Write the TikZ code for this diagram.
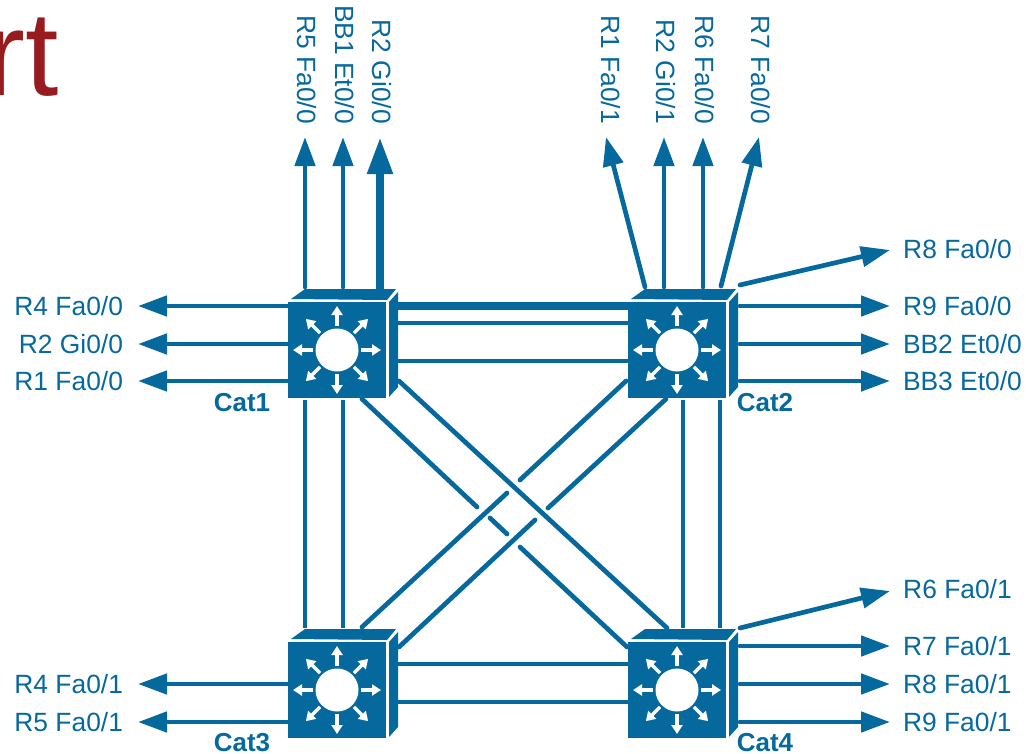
\documentclass[tikz,border=0pt]{standalone}
\usepackage{fontspec}
\setmainfont{Liberation Sans}
\usetikzlibrary{arrows.meta}
\definecolor{swblue}{HTML}{06699D}
\definecolor{titlered}{HTML}{981C1F}
\tikzset{
  link/.style={draw=swblue,line width=4.7pt,line cap=round},
  thicklink/.style={draw=swblue,line width=8pt},
  feed/.style={link,-{Triangle[length=29pt,width=20pt]}},
  thickfeed/.style={thicklink,-{Triangle[length=37pt,width=24pt]}},
  lbl/.style={text=swblue,font=\fontsize{26.4}{30}\selectfont,inner sep=0pt,text height=18.6pt,text depth=0pt},
  uplbl/.style={lbl,rotate=-90,anchor=east,outer sep=13pt,text depth=3pt},
  catlbl/.style={lbl,font=\fontsize{26}{30}\selectfont\bfseries},
  swfront/.style={fill=swblue,minimum width=98pt,minimum height=96pt,inner sep=0pt,outer sep=0pt},
  swarrow/.style={draw=white,line width=3.4pt,-{Triangle[length=9pt,width=11pt]}}
}
\newcommand{\catswitch}[2]{
  \node[swfront] (#1) at (#2) {};
  \begin{scope}[shift={(#2)}]
    \fill[swblue] (-46,-51) -- (-32,-61) -- (59,-61) -- (50,-50) -- cycle;
    \fill[swblue] (52,-48) -- (61,-58) -- (61,37) -- (52,47) -- cycle;
    \fill[white] (0,0) circle [radius=21.5];
    \foreach \a in {0,45,...,315}
      \draw[swarrow,rotate=\a] (24,0) -- (44,0);
  \end{scope}
}
\begin{document}
\begin{tikzpicture}[x=1pt,y=-1pt]
\useasboundingbox (0,0) rectangle (1026,753);
\node[text=titlered,font=\fontsize{120}{130}\selectfont,anchor=base east,inner sep=0pt] (title) at (59,95) {rt};
% switches
\catswitch{cat1}{337,350}
\catswitch{cat2}{677,350}
\catswitch{cat3}{337,690}
\catswitch{cat4}{677,690}
\node[catlbl] (cat1lbl) at (242,402) {Cat1};
\node[catlbl] (cat2lbl) at (765,402) {Cat2};
\node[catlbl] (cat3lbl) at (242,742) {Cat3};
\node[catlbl] (cat4lbl) at (765,742) {Cat4};
% links between the switches
\draw[thicklink] ([shift={(61,-44)}]cat1.center) -- ([shift={(-49,-44)}]cat2.center);
\draw[link,line cap=butt] ([shift={(61,-27)}]cat1.center) -- ([shift={(-49,-27)}]cat2.center);
\draw[link,line cap=butt] ([shift={(61,11)}]cat1.center) -- ([shift={(-49,11)}]cat2.center);
\draw[link,line cap=butt] ([shift={(61,-26)}]cat3.center) -- ([shift={(-49,-26)}]cat4.center);
\draw[link,line cap=butt] ([shift={(61,12)}]cat3.center) -- ([shift={(-49,12)}]cat4.center);
\draw[link,line cap=butt] ([shift={(-32,50)}]cat1.center) -- ([shift={(-32,-62)}]cat3.center);
\draw[link,line cap=butt] ([shift={(6,50)}]cat1.center) -- ([shift={(6,-62)}]cat3.center);
\draw[link,line cap=butt] ([shift={(6,50)}]cat2.center) -- ([shift={(6,-62)}]cat4.center);
\draw[link,line cap=butt] ([shift={(43,50)}]cat2.center) -- ([shift={(43,-62)}]cat4.center);
% the crossing links, broken where they pass under
\coordinate (ua) at (520,480);
\coordinate (ub) at (507,493);
\coordinate (la) at (548,508);
\coordinate (lb) at (535,520);
\coordinate (ma) at (477,507);
\coordinate (mb) at (490,518);
\coordinate (mc) at (507,534);
\coordinate (md) at (520,547);
\draw[link] ([shift={(62,31)}]cat1.center) -- ([shift={(-10,-62)}]cat4.center);
\draw[link] ([shift={(25,49)}]cat1.center) -- (ma);
\draw[link] (mb) -- (mc);
\draw[link] (md) -- ([shift={(-50,-43)}]cat4.center);
\draw[link] ([shift={(-51,31)}]cat2.center) -- (ua);
\draw[link] (ub) -- ([shift={(25,-63)}]cat3.center);
\draw[link] ([shift={(-11,49)}]cat2.center) -- (la);
\draw[link] (lb) -- ([shift={(62,-43)}]cat3.center);
% left side
\foreach \name/\sw/\py/\txt in {r4a/cat1/306/R4 Fa0\slash 0,r2a/cat1/344/R2 Gi0\slash 0,r1a/cat1/381/R1 Fa0\slash 0,r4b/cat3/684/R4 Fa0\slash 1,r5b/cat3/722/R5 Fa0\slash 1}{
  \node[lbl,anchor=east,outer sep=15pt] (\name) at (138,\py) {\txt};
  \pgfmathsetmacro{\swy}{\py<500 ? \py-350 : \py-690}
  \draw[feed] ([shift={(-50,\swy)}]\sw.center) -- (\name);
}
% right side
\foreach \name/\sw/\py/\txt in {r9a/cat2/306/R9 Fa0\slash 0,bb2/cat2/344/BB2 Et0\slash 0,bb3/cat2/381/BB3 Et0\slash 0,r7b/cat4/646/R7 Fa0\slash 1,r8b/cat4/684/R8 Fa0\slash 1,r9b/cat4/722/R9 Fa0\slash 1}{
  \node[lbl,anchor=west,outer sep=13pt] (\name) at (890,\py) {\txt};
  \pgfmathsetmacro{\swy}{\py<500 ? \py-350 : \py-690}
  \draw[feed] ([shift={(63,\swy)}]\sw.center) -- (\name);
}
% top side
\foreach \name/\sw/\px/\txt in {r5a/cat1/305/R5 Fa0\slash 0,bb1/cat1/343/BB1 Et0\slash 0,r2g/cat2/664/R2 Gi0\slash 1,r6a/cat2/703/R6 Fa0\slash 0}{
  \node[uplbl] (\name) at (\px,137) {\txt};
  \pgfmathsetmacro{\swx}{\px<500 ? \px-337 : \px-677}
  \draw[feed] ([shift={(\swx,-63)}]\sw.center) -- (\name);
}
\node[uplbl] (r2b) at (380,137) {R2 Gi0\slash 0};
\draw[thickfeed] ([shift={(43,-61)}]cat1.center) -- (r2b);
% slanted feeds, their tips do not point at the labels
\node[uplbl] (r1f) at (609,137) {R1 Fa0\slash 1};
\node[uplbl] (r7a) at (759,137) {R7 Fa0\slash 0};
\node[lbl,anchor=west] (r8a) at (903,249) {R8 Fa0\slash 0};
\node[lbl,anchor=west] (r6b) at (903,589) {R6 Fa0\slash 1};
\coordinate (r1tip) at (606,137);
\coordinate (r7tip) at (759,137);
\coordinate (r8tip) at (890,250);
\coordinate (r6tip) at (890,591);
\draw[feed] ([shift={(-32,-63)}]cat2.center) -- (r1tip);
\draw[feed] ([shift={(44,-64)}]cat2.center) -- (r7tip);
\draw[feed] ([shift={(63,-65)}]cat2.center) -- (r8tip);
\draw[feed] ([shift={(63,-62)}]cat4.center) -- (r6tip);
\end{tikzpicture}
\end{document}
